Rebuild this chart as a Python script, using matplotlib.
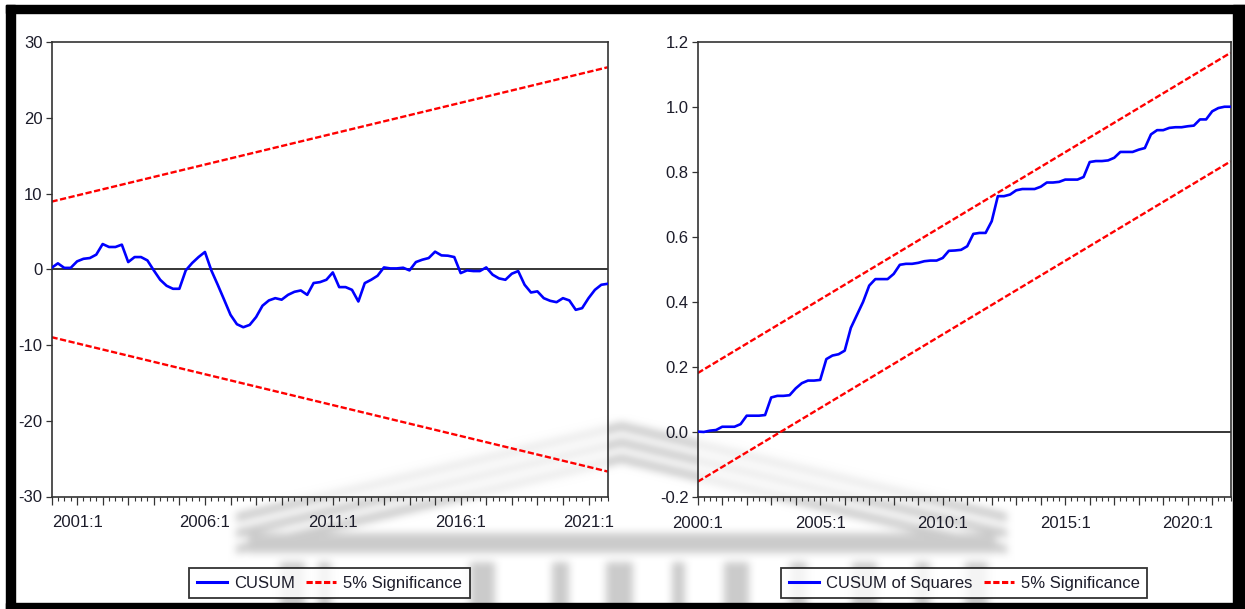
import matplotlib
matplotlib.use("Agg")
import matplotlib.pyplot as plt
import numpy as np
from matplotlib.lines import Line2D
from matplotlib.patches import Rectangle
from matplotlib.ticker import FixedLocator, FuncFormatter

plt.rcParams['font.family'] = ['Liberation Sans', 'DejaVu Sans']
plt.rcParams['lines.scale_dashes'] = False

# quarterly sample 2000:1 - 2021:4
start_year = 2000

cusum = [0.2, 0.8, 0.2, 0.2, 1.06, 1.4, 1.5, 1.95, 3.35, 2.96, 2.96, 3.27,
         0.97, 1.63, 1.63, 1.19, -0.13, -1.37, -2.16, -2.56, -2.56, -0.13, 0.84, 1.63,
         2.3, -0.13, -2.03, -4.0, -6.0, -7.24, -7.64, -7.33, -6.3, -4.8, -4.1, -3.8,
         -4.0, -3.36, -2.96, -2.78, -3.36, -1.8, -1.68, -1.37, -0.4, -2.34, -2.34, -2.7,
         -4.24, -1.81, -1.37, -0.84, 0.26, 0.13, 0.13, 0.22, -0.13, 0.97, 1.28, 1.5,
         2.34, 1.85, 1.81, 1.63, -0.49, -0.13, -0.22, -0.22, 0.26, -0.7, -1.19, -1.37,
         -0.57, -0.22, -2.03, -3.05, -2.9, -3.8, -4.15, -4.33, -3.8, -4.1, -5.34, -5.12,
         -3.8, -2.7, -2.03, -1.9]
cusum_upper = [8.95, 26.7]
cusum_lower = [-8.95, -26.7]

cusumsq = [0.001, 0.0, 0.004, 0.006, 0.016, 0.016, 0.016, 0.024, 0.05, 0.05, 0.05, 0.052,
           0.106, 0.111, 0.111, 0.113, 0.134, 0.15, 0.158, 0.158, 0.16, 0.224, 0.235, 0.239,
           0.25, 0.32, 0.36, 0.40, 0.45, 0.47, 0.47, 0.47, 0.486, 0.514, 0.517, 0.517,
           0.52, 0.525, 0.527, 0.527, 0.535, 0.557, 0.558, 0.56, 0.571, 0.609, 0.612, 0.612,
           0.648, 0.725, 0.725, 0.73, 0.743, 0.747, 0.747, 0.747, 0.754, 0.767, 0.767, 0.769,
           0.776, 0.776, 0.776, 0.784, 0.83, 0.833, 0.833, 0.835, 0.843, 0.861, 0.861, 0.861,
           0.868, 0.873, 0.915, 0.928, 0.928, 0.935, 0.937, 0.937, 0.94, 0.942, 0.961, 0.961,
           0.986, 0.996, 1.0, 1.0]
cusumsq_upper = [0.181, 1.166]
cusumsq_lower = [-0.153, 0.832]

cusum_labels = [2001, 2006, 2011, 2016, 2021]
cusumsq_labels = [2000, 2005, 2010, 2015, 2020]

W, H = 1245, 609
fig = plt.figure(figsize=(W / 100, H / 100), dpi=100)
fig.patch.set_facecolor('white')

BLUE = '#0000ff'
RED = '#ff0000'
TXT = '#1c1c2a'


def fx(x):
    return x / W


def fy(y):
    return 1 - y / H


# soft building watermark behind both panels, rasterised and blurred
yy, xx = np.mgrid[0:H, 0:W].astype(float)
mask = np.zeros((H, W))
roof = 426 + (90.0 / 381.0) * np.abs(xx - 621)
span = (xx >= 236) & (xx <= 1006)
for off in (0, 16, 32):
    mask[span & (np.abs(yy - roof - off) < 4.5)] = 1.0
mask[(yy >= 533) & (yy <= 552) & (xx >= 248) & (xx <= 995)] = 1.0
for cx, cw in [(280, 24), (318, 12), (470, 24), (552, 16), (606, 26), (672, 12),
               (724, 24), (790, 16), (852, 24), (915, 14), (965, 22)]:
    mask[(yy >= 562) & (xx >= cx) & (xx <= cx + cw)] = 1.0
kern = np.ones(9) / 9.0
for _ in range(2):
    mask = np.apply_along_axis(lambda r: np.convolve(r, kern, mode='same'), 1, mask)
    mask = np.apply_along_axis(lambda c: np.convolve(c, kern, mode='same'), 0, mask)
shade = 1.0 - 0.2 * mask
fig.figimage(np.dstack([shade, shade, shade]), xo=0, yo=0, origin='upper', zorder=-1)


def px_axes(x0, y0, x1, y1):
    return fig.add_axes([x0 / W, 1 - y1 / H, (x1 - x0) / W, (y1 - y0) / H])


def style(ax, series, upper, lower, ylim, yticks, yfmt, labelled):
    n = len(series)
    t = start_year + np.arange(n) / 4.0
    ax.axhline(0, color='black', lw=1.1, zorder=1)
    ax.plot(t, series, color=BLUE, lw=1.9, zorder=3)
    ends = [t[0], t[-1]]
    ax.plot(ends, upper, color=RED, lw=1.7, dashes=(4.5, 1.8), zorder=2)
    ax.plot(ends, lower, color=RED, lw=1.7, dashes=(4.5, 1.8), zorder=2)
    ax.set_xlim(t[0], t[-1])
    ax.set_ylim(*ylim)
    ax.set_yticks(yticks)
    ax.yaxis.set_major_formatter(FuncFormatter(yfmt))
    years = np.arange(start_year, int(t[-1]) + 1)
    ax.xaxis.set_major_locator(FixedLocator(years))
    ax.xaxis.set_major_formatter(FuncFormatter(
        lambda v, p: f"{int(round(v))}:1" if int(round(v)) in labelled else ""))
    ax.xaxis.set_minor_locator(FixedLocator(t))
    ax.tick_params(axis='x', which='major', direction='out', length=5.5, width=0.9,
                   colors='#333333', labelcolor=TXT, labelsize=12, pad=8)
    ax.tick_params(axis='x', which='minor', direction='out', length=3, width=0.8,
                   colors='#333333')
    ax.tick_params(axis='y', direction='out', length=4.5, width=0.9,
                   colors='#333333', labelcolor=TXT, labelsize=12, pad=2)
    for s in ax.spines.values():
        s.set_color('#333333')
        s.set_linewidth(1.2)
    ax.patch.set_facecolor('white')
    ax.patch.set_alpha(0.65)


ax1 = px_axes(51.5, 42.3, 607.7, 496.5)
style(ax1, cusum, cusum_upper, cusum_lower, (-30, 30), [-30, -20, -10, 0, 10, 20, 30],
      lambda v, p: f"{v:.0f}", cusum_labels)

ax2 = px_axes(697.7, 41.7, 1230.6, 497.0)
style(ax2, cusumsq, cusumsq_upper, cusumsq_lower, (-0.2, 1.2),
      [-0.2, 0.0, 0.2, 0.4, 0.6, 0.8, 1.0, 1.2],
      lambda v, p: f"{v:.1f}", cusumsq_labels)


def legend_below(ax, name):
    handles = [Line2D([], [], color=BLUE, lw=2.2),
               Line2D([], [], color=RED, lw=2.2, dashes=(4.5, 1.8))]
    box = ax.get_position()
    leg = fig.legend(handles, [name, '5% Significance'], ncol=2, loc='center',
                     bbox_to_anchor=((box.x0 + box.x1) / 2, fy(583.4)),
                     frameon=True, fancybox=False, shadow=False, fontsize=12,
                     handlelength=1.8, handletextpad=0.42, columnspacing=0.7,
                     borderpad=0.45, borderaxespad=0, labelcolor=TXT)
    frame = leg.get_frame()
    frame.set_edgecolor('black')
    frame.set_linewidth(1.3)
    frame.set_facecolor((1, 1, 1, 0.4))


legend_below(ax1, 'CUSUM')
legend_below(ax2, 'CUSUM of Squares')

# thick black frame around the whole figure
for (x0, y0, x1, y1) in [(6, 5, 1245, 13), (6, 603, 1245, 609),
                         (6, 5, 15, 609), (1233, 5, 1245, 609)]:
    fig.patches.append(Rectangle((fx(x0), fy(y1)), fx(x1 - x0), fy(y0) - fy(y1),
                                 transform=fig.transFigure, color='black', zorder=10))

fig.savefig('out.png', dpi=100)
